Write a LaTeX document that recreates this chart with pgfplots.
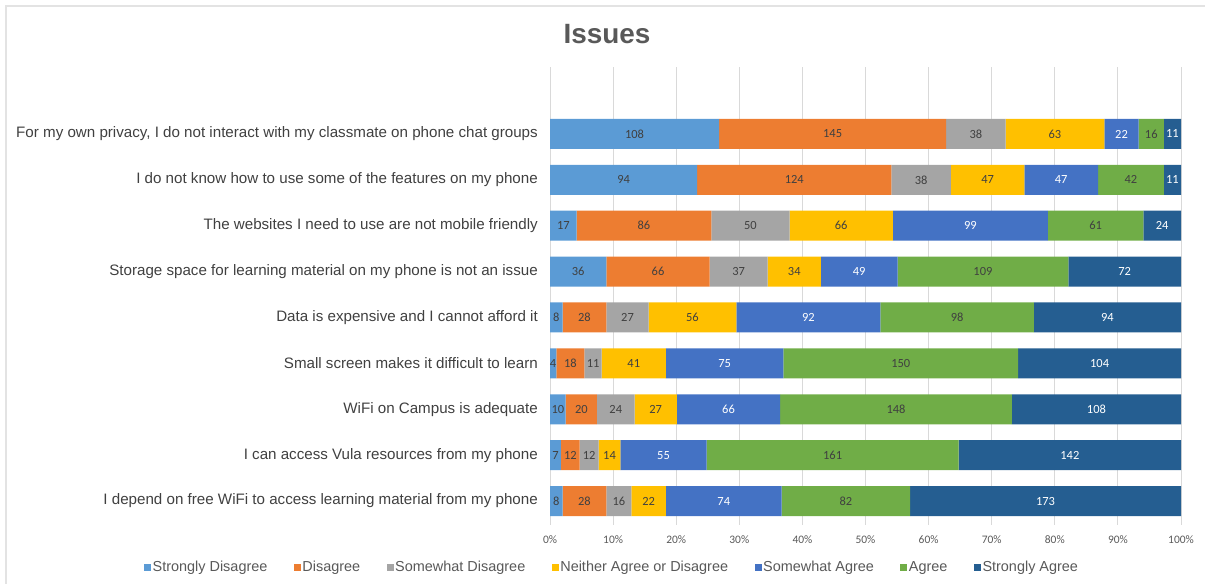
\documentclass[border=0pt]{standalone}
\usepackage{pgfplots}
\pgfplotsset{compat=1.18}
\usepackage{pgfplotstable}
\usepackage{fontspec}
\setmainfont{Liberation Sans}
\newfontfamily\carlito{Carlito}
\definecolor{cSD}{HTML}{5B9BD5}
\definecolor{cD}{HTML}{ED7D31}
\definecolor{cSWD}{HTML}{A5A5A5}
\definecolor{cN}{HTML}{FFC000}
\definecolor{cSWA}{HTML}{4472C4}
\definecolor{cA}{HTML}{70AD47}
\definecolor{cSA}{HTML}{255E91}
\definecolor{txt}{HTML}{404040}
\definecolor{txtl}{HTML}{595959}
\definecolor{gridc}{HTML}{D9D9D9}
\definecolor{borderc}{HTML}{E3E3E3}

\pgfplotstableread{
y sd d swd n swa a sa
0 8 28 16 22 74 82 173
1 7 12 12 14 55 161 142
2 10 20 24 27 66 148 108
3 4 18 11 41 75 150 104
4 8 28 27 56 92 98 94
5 36 66 37 34 49 109 72
6 17 86 50 66 99 61 24
7 94 124 38 47 47 42 11
8 108 145 38 63 22 16 11
}\data
% label positions: middle of each segment, computed from the values
\pgfplotstablecreatecol[expr={\thisrow{sd}/2}]{msd}\data
\pgfplotstablecreatecol[expr={\thisrow{sd}+\thisrow{d}/2}]{md}\data
\pgfplotstablecreatecol[expr={\thisrow{sd}+\thisrow{d}+\thisrow{swd}/2}]{mswd}\data
\pgfplotstablecreatecol[expr={\thisrow{sd}+\thisrow{d}+\thisrow{swd}+\thisrow{n}/2}]{mn}\data
\pgfplotstablecreatecol[expr={\thisrow{sd}+\thisrow{d}+\thisrow{swd}+\thisrow{n}+\thisrow{swa}/2}]{mswa}\data
\pgfplotstablecreatecol[expr={\thisrow{sd}+\thisrow{d}+\thisrow{swd}+\thisrow{n}+\thisrow{swa}+\thisrow{a}/2}]{ma}\data
\pgfplotstablecreatecol[expr={\thisrow{sd}+\thisrow{d}+\thisrow{swd}+\thisrow{n}+\thisrow{swa}+\thisrow{a}+\thisrow{sa}/2}]{msa}\data

\pgfplotsset{
  myleg/.style={legend image code/.code={\fill[##1] (0bp,-3.5bp) rectangle (7bp,3.5bp);}},
  frame/.style={at={(550bp,64bp)}, anchor=south west,
    scale only axis, width=631bp, height=453bp,
    xmin=0, xmax=403, ymin=-0.414, ymax=9.46},
  lab/.style={draw=none, mark=none, point meta=explicit, nodes near coords={\pgfmathprintnumber[assume math mode=true]{\pgfplotspointmeta}},
    every node near coord/.style={font=\carlito\fontsize{12.5}{14}\selectfont, text=#1, anchor=center, inner sep=0pt}},
}

\begin{document}
\begin{tikzpicture}
\useasboundingbox (0,0) rectangle (1205bp,584bp);
\draw[borderc, line width=2bp] (6bp,0) -- (6bp,578bp) -- (1205bp,578bp);
\node[font=\bfseries\fontsize{28}{32}\selectfont, text=txtl] at (607bp,550bp) {Issues};
\begin{axis}[
  frame,
  xbar stacked, bar width=30bp,
  xtick={0,40.3,80.6,120.9,161.2,201.5,241.8,282.1,322.4,362.7,403},
  xticklabels={0\%,10\%,20\%,30\%,40\%,50\%,60\%,70\%,80\%,90\%,100\%},
  ytick={0,1,2,3,4,5,6,7,8},
  yticklabels={
    I depend on free WiFi to access learning material from my phone,
    I can access Vula resources from my phone,
    WiFi on Campus is adequate,
    Small screen makes it difficult to learn,
    Data is expensive and I cannot afford it,
    Storage space for learning material on my phone is not an issue,
    The websites I need to use are not mobile friendly,
    I do not know how to use some of the features on my phone,
    {For my own privacy, I do not interact with my classmate on phone chat groups}},
  xmajorgrids, major grid style={gridc, line width=1bp},
  axis line style={draw=none},
  x tick style={gridc, line width=1bp}, major tick length=5bp, tick align=outside,
  xtick pos=bottom,
  y tick style={draw=none},
  xticklabel style={font=\carlito\fontsize{11.5}{13}\selectfont, text=txtl, yshift=-7bp},
  yticklabel style={font=\fontsize{15.2}{18}\selectfont, text=txt, inner sep=0pt, xshift=-7bp},
  legend columns=7,
  legend style={at={(0.098,-0.104)}, anchor=center, draw=none, font=\fontsize{14.5}{16}\selectfont, text=txtl,
    /tikz/every even column/.append style={column sep=25bp}, inner sep=0pt, nodes={inner sep=1.5bp}},
]
\addplot[fill=cSD, draw=none, myleg] table[x=sd,y=y]{\data};
\addplot[fill=cD, draw=none, myleg] table[x=d,y=y]{\data};
\addplot[fill=cSWD, draw=none, myleg] table[x=swd,y=y]{\data};
\addplot[fill=cN, draw=none, myleg] table[x=n,y=y]{\data};
\addplot[fill=cSWA, draw=none, myleg] table[x=swa,y=y]{\data};
\addplot[fill=cA, draw=none, myleg] table[x=a,y=y]{\data};
\addplot[fill=cSA, draw=none, myleg] table[x=sa,y=y]{\data};
\legend{Strongly Disagree, Disagree, Somewhat Disagree, Neither Agree or Disagree, Somewhat Agree, Agree, Strongly Agree}
\end{axis}
\begin{axis}[frame, hide axis]
\addplot[lab=txt] table[x=msd,y=y,meta=sd]{\data};
\addplot[lab=txt] table[x=md,y=y,meta=d]{\data};
\addplot[lab=txt] table[x=mswd,y=y,meta=swd]{\data};
\addplot[lab=txt] table[x=mn,y=y,meta=n]{\data};
\addplot[lab=white] table[x=mswa,y=y,meta=swa]{\data};
\addplot[lab=txt] table[x=ma,y=y,meta=a]{\data};
\addplot[lab=white] table[x=msa,y=y,meta=sa]{\data};
\end{axis}
\end{tikzpicture}
\end{document}
